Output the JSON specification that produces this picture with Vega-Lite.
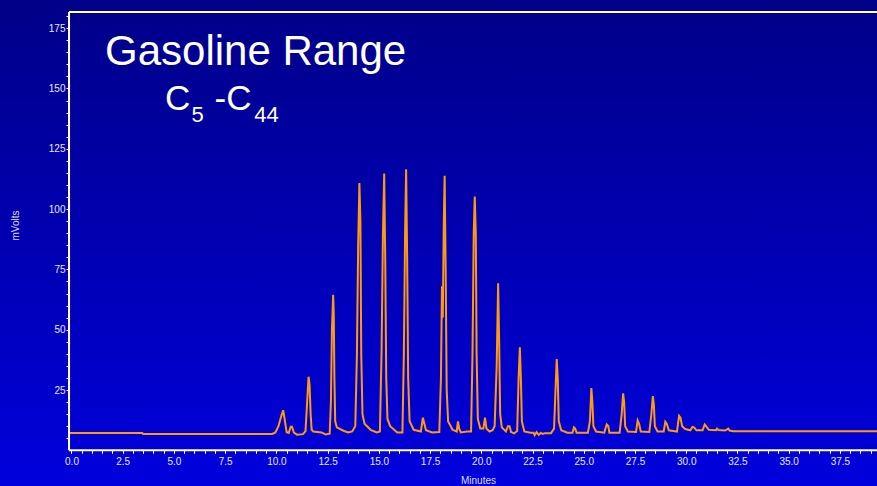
{
  "$schema": "https://vega.github.io/schema/vega-lite/v6.json",
  "width": 877,
  "height": 486,
  "autosize": {"type": "none"},
  "padding": 0,
  "background": "#0000b4",
  "view": {
    "stroke": null,
    "fill": {"gradient": "linear", "x1": 0, "y1": 0, "x2": 0, "y2": 1,
      "stops": [{"offset": 0, "color": "#000088"}, {"offset": 1, "color": "#0000dc"}]}
  },
  "config": {"font": "Liberation Sans"},
  "layer": [
    {
      "data": {"values": [
        {"t":-0.12,"mv":7.2},{"t":3.45,"mv":7.2},{"t":3.5,"mv":6.8},{"t":9.8,"mv":6.8},{"t":9.95,"mv":7.4},{"t":10.1,"mv":10},{"t":10.25,"mv":14.5},{"t":10.33,"mv":16.6},{"t":10.4,"mv":13},{"t":10.5,"mv":7.5},{"t":10.6,"mv":7.2},{"t":10.7,"mv":9.8},{"t":10.76,"mv":9.8},{"t":10.85,"mv":7.4},{"t":11.0,"mv":6.5},{"t":11.3,"mv":6.7},{"t":11.42,"mv":8},{"t":11.5,"mv":20},{"t":11.57,"mv":30.5},{"t":11.62,"mv":27},{"t":11.67,"mv":15},{"t":11.72,"mv":8.5},{"t":11.8,"mv":7.8},{"t":12.2,"mv":7.4},{"t":12.4,"mv":6.6},{"t":12.6,"mv":6.9},{"t":12.66,"mv":20},{"t":12.71,"mv":50},{"t":12.74,"mv":57},{"t":12.77,"mv":64.5},{"t":12.8,"mv":56},{"t":12.83,"mv":30},{"t":12.87,"mv":12},{"t":12.95,"mv":9.5},{"t":13.3,"mv":8},{"t":13.5,"mv":7.4},{"t":13.7,"mv":7.8},{"t":13.85,"mv":10},{"t":13.93,"mv":40},{"t":13.99,"mv":85},{"t":14.05,"mv":110.8},{"t":14.1,"mv":95},{"t":14.14,"mv":40},{"t":14.2,"mv":15},{"t":14.3,"mv":11},{"t":14.6,"mv":8.5},{"t":14.9,"mv":7.4},{"t":15.05,"mv":7.8},{"t":15.13,"mv":40},{"t":15.2,"mv":90},{"t":15.26,"mv":114.8},{"t":15.31,"mv":80},{"t":15.36,"mv":30},{"t":15.42,"mv":13},{"t":15.55,"mv":10},{"t":15.9,"mv":7.4},{"t":16.15,"mv":7.4},{"t":16.22,"mv":40},{"t":16.28,"mv":90},{"t":16.33,"mv":116.5},{"t":16.38,"mv":80},{"t":16.43,"mv":30},{"t":16.5,"mv":12},{"t":16.7,"mv":8.5},{"t":17.05,"mv":7.8},{"t":17.15,"mv":13.5},{"t":17.22,"mv":11},{"t":17.3,"mv":8.3},{"t":17.6,"mv":7.4},{"t":17.95,"mv":7.6},{"t":18.03,"mv":30},{"t":18.08,"mv":68},{"t":18.12,"mv":55},{"t":18.17,"mv":95},{"t":18.21,"mv":113.8},{"t":18.26,"mv":75},{"t":18.31,"mv":25},{"t":18.38,"mv":12},{"t":18.6,"mv":8.5},{"t":18.8,"mv":7.8},{"t":18.86,"mv":12},{"t":18.92,"mv":9},{"t":19.0,"mv":7.4},{"t":19.3,"mv":7.8},{"t":19.5,"mv":7.8},{"t":19.57,"mv":40},{"t":19.63,"mv":90},{"t":19.68,"mv":105.2},{"t":19.73,"mv":90},{"t":19.77,"mv":40},{"t":19.83,"mv":13},{"t":19.95,"mv":9},{"t":20.1,"mv":9},{"t":20.18,"mv":13.5},{"t":20.25,"mv":9},{"t":20.4,"mv":7.8},{"t":20.55,"mv":8.3},{"t":20.65,"mv":10},{"t":20.75,"mv":35},{"t":20.82,"mv":69.3},{"t":20.87,"mv":45},{"t":20.92,"mv":15},{"t":21.0,"mv":9.5},{"t":21.2,"mv":7.8},{"t":21.3,"mv":10},{"t":21.38,"mv":10},{"t":21.45,"mv":7.6},{"t":21.6,"mv":7.0},{"t":21.75,"mv":8},{"t":21.82,"mv":30},{"t":21.88,"mv":42.7},{"t":21.93,"mv":30},{"t":21.98,"mv":12},{"t":22.1,"mv":7.8},{"t":22.4,"mv":7.3},{"t":22.55,"mv":7.3},{"t":22.6,"mv":6.3},{"t":22.7,"mv":7.5},{"t":22.8,"mv":6.4},{"t":22.9,"mv":7.2},{"t":23.0,"mv":6.8},{"t":23.1,"mv":7.1},{"t":23.4,"mv":7.1},{"t":23.55,"mv":9},{"t":23.62,"mv":25},{"t":23.68,"mv":37.8},{"t":23.73,"mv":30},{"t":23.78,"mv":12},{"t":23.9,"mv":8.3},{"t":24.2,"mv":7.3},{"t":24.45,"mv":7.3},{"t":24.52,"mv":9.5},{"t":24.58,"mv":9},{"t":24.65,"mv":7.3},{"t":25.2,"mv":7.3},{"t":25.3,"mv":12},{"t":25.37,"mv":25.8},{"t":25.42,"mv":20},{"t":25.47,"mv":10},{"t":25.6,"mv":7.8},{"t":26.0,"mv":7.3},{"t":26.12,"mv":10.7},{"t":26.2,"mv":10},{"t":26.25,"mv":7.3},{"t":26.75,"mv":7.3},{"t":26.85,"mv":15},{"t":26.92,"mv":23.6},{"t":26.97,"mv":20},{"t":27.02,"mv":10},{"t":27.15,"mv":7.8},{"t":27.55,"mv":7.6},{"t":27.63,"mv":12.4},{"t":27.7,"mv":11},{"t":27.78,"mv":7.8},{"t":28.2,"mv":7.6},{"t":28.3,"mv":15},{"t":28.37,"mv":22.5},{"t":28.42,"mv":19},{"t":28.47,"mv":10},{"t":28.6,"mv":7.8},{"t":28.9,"mv":7.8},{"t":28.98,"mv":11.8},{"t":29.05,"mv":11},{"t":29.15,"mv":8.3},{"t":29.55,"mv":7.8},{"t":29.65,"mv":14.3},{"t":29.72,"mv":13.5},{"t":29.8,"mv":10},{"t":29.95,"mv":8.8},{"t":30.2,"mv":8.3},{"t":30.3,"mv":9.7},{"t":30.38,"mv":9.5},{"t":30.5,"mv":8.3},{"t":30.8,"mv":8.3},{"t":30.9,"mv":10.7},{"t":30.97,"mv":10},{"t":31.1,"mv":8.5},{"t":31.45,"mv":8.3},{"t":31.5,"mv":9},{"t":31.57,"mv":8.4},{"t":31.9,"mv":8.2},{"t":32.05,"mv":9},{"t":32.12,"mv":8.2},{"t":32.3,"mv":7.9},{"t":39.5,"mv":7.9}
      ]},
      "mark": {"type": "line", "color": "#ff9a10", "strokeWidth": 2, "clip": true},
      "encoding": {
        "x": {
          "field": "t", "type": "quantitative",
          "scale": {"domain": [-3.489, 39.31], "nice": false, "zero": false},
          "axis": {
            "title": "Minutes", "orient": "bottom", "offset": -35.7,
            "values": [0,0.5,1,1.5,2,2.5,3,3.5,4,4.5,5,5.5,6,6.5,7,7.5,8,8.5,9,9.5,10,10.5,11,11.5,12,12.5,13,13.5,14,14.5,15,15.5,16,16.5,17,17.5,18,18.5,19,19.5,20,20.5,21,21.5,22,22.5,23,23.5,24,24.5,25,25.5,26,26.5,27,27.5,28,28.5,29,29.5,30,30.5,31,31.5,32,32.5,33,33.5,34,34.5,35,35.5,36,36.5,37,37.5,38,38.5,39],
            "tickCount": 200,
            "format": ".1f",
            "labelExpr": "datum.value % 2.5 === 0 ? datum.label : ''",
            "domain": false, "grid": false,
            "tickColor": "#ffffff", "tickWidth": 1, "tickSize": 3,
            "labelColor": "#e8e8ff", "labelFontSize": 10, "labelPadding": 3,
            "labelOverlap": false, "labelFlush": false, "labelBound": false,
            "titleColor": "#dcdcff", "titleFontSize": 10, "titleFontWeight": "normal",
            "titleX": 478, "titleY": 29.7, "titleBaseline": "middle", "titleAlign": "center"
          }
        },
        "y": {
          "field": "mv", "type": "quantitative",
          "scale": {"domain": [-14.8, 186.69], "nice": false, "zero": false},
          "axis": {
            "title": "mVolts", "orient": "left", "offset": -69,
            "values": [5,10,15,20,25,30,35,40,45,50,55,60,65,70,75,80,85,90,95,100,105,110,115,120,125,130,135,140,145,150,155,160,165,170,175,180],
            "tickCount": 200,
            "labelExpr": "datum.value % 25 === 0 ? datum.label : ''",
            "domain": false, "grid": false,
            "tickColor": "#ffffff", "tickWidth": 1, "tickSize": 3,
            "labelColor": "#e8e8ff", "labelFontSize": 10, "labelPadding": 1,
            "labelOverlap": false, "labelFlush": false, "labelBound": false,
            "titleColor": "#dcdcff", "titleFontSize": 10, "titleFontWeight": "normal",
            "titleX": -54, "titleY": 225, "titleBaseline": "middle", "titleAlign": "center", "titleAngle": 270
          }
        }
      }
    },
    {
      "data": {"values": [{}]},
      "mark": {"type": "rule", "color": "#ffffff", "strokeWidth": 2},
      "encoding": {
        "x": {"datum": -0.12, "type": "quantitative"},
        "y": {"datum": 0, "type": "quantitative"},
        "y2": {"datum": 181.7}
      }
    },
    {
      "data": {"values": [{}]},
      "mark": {"type": "rule", "color": "#ffffff", "strokeWidth": 2},
      "encoding": {
        "x": {"datum": -0.12, "type": "quantitative"},
        "x2": {"datum": 39.31},
        "y": {"datum": 181.7, "type": "quantitative"}
      }
    },
    {
      "data": {"values": [{}]},
      "mark": {"type": "rule", "color": "#ffffff", "strokeWidth": 2},
      "encoding": {
        "x": {"datum": -0.12, "type": "quantitative"},
        "x2": {"datum": 39.31},
        "y": {"datum": 0, "type": "quantitative"}
      }
    },
    {
      "data": {"values": [{}]},
      "mark": {"type": "text", "text": "Gasoline Range", "align": "left", "baseline": "alphabetic", "fontSize": 42, "color": "#ffffff"},
      "encoding": {
        "x": {"datum": 1.635, "type": "quantitative"},
        "y": {"datum": 159.8, "type": "quantitative"}
      }
    },
    {
      "data": {"values": [{}]},
      "mark": {"type": "text", "text": "C", "align": "left", "baseline": "alphabetic", "fontSize": 35, "color": "#ffffff"},
      "encoding": {
        "x": {"datum": 4.563, "type": "quantitative"},
        "y": {"datum": 141.1, "type": "quantitative"}
      }
    },
    {
      "data": {"values": [{}]},
      "mark": {"type": "text", "text": "5", "align": "left", "baseline": "alphabetic", "fontSize": 22, "color": "#ffffff"},
      "encoding": {
        "x": {"datum": 5.857, "type": "quantitative"},
        "y": {"datum": 136.3, "type": "quantitative"}
      }
    },
    {
      "data": {"values": [{}]},
      "mark": {"type": "text", "text": "-C", "align": "left", "baseline": "alphabetic", "fontSize": 35, "color": "#ffffff"},
      "encoding": {
        "x": {"datum": 6.98, "type": "quantitative"},
        "y": {"datum": 141.1, "type": "quantitative"}
      }
    },
    {
      "data": {"values": [{}]},
      "mark": {"type": "text", "text": "44", "align": "left", "baseline": "alphabetic", "fontSize": 22, "color": "#ffffff"},
      "encoding": {
        "x": {"datum": 8.92, "type": "quantitative"},
        "y": {"datum": 136.3, "type": "quantitative"}
      }
    }
  ]
}
